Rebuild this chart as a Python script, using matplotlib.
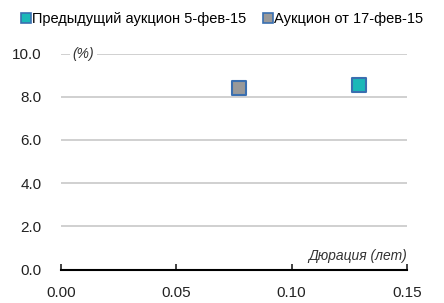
import matplotlib.pyplot as plt
from matplotlib import font_manager

# Data
series = ['Предыдущий аукцион 5-фев-15', 'Аукцион от 17-фев-15']
duration = [0.129, 0.077]
yields = [8.55, 8.4]
colors = ['#1bb8b8', '#999999']

names = {f.name for f in font_manager.fontManager.ttflist}
fam = 'Liberation Sans Narrow' if 'Liberation Sans Narrow' in names else 'Liberation Sans'
plt.rcParams['font.family'] = [fam, 'DejaVu Sans']

fig = plt.figure(figsize=(4.44, 3.03), dpi=100)
ax = fig.add_axes([61 / 444, 33.5 / 303, 346 / 444, 216 / 303])

for x, y, c, lab in zip(duration, yields, colors, series):
    ax.scatter([x], [y], s=110, marker='s', color=c, edgecolors='#3a6fb0',
               linewidths=1.5, label=lab, zorder=3)

ax.set_xlim(0, 0.15)
ax.set_ylim(0, 10)
ax.set_xticks([0, 0.05, 0.10, 0.15])
ax.set_xticklabels(['0.00', '0.05', '0.10', '0.15'])
ax.set_yticks([0, 2, 4, 6, 8, 10])
ax.set_yticklabels(['0.0', '2.0', '4.0', '6.0', '8.0', '10.0'])
ax.tick_params(axis='both', labelsize=11, colors='#222222')
ax.tick_params(axis='y', length=0, pad=14)
ax.tick_params(axis='x', length=4, width=1.2, direction='in', pad=12)

ax.grid(axis='y', color='#c8c8c8', linewidth=1.2)
ax.set_axisbelow(True)
for s in ['top', 'right', 'left']:
    ax.spines[s].set_visible(False)
ax.spines['bottom'].set_linewidth(1.5)

ax.text(0.005, 10, '(%)', style='italic', fontsize=10, color='#333333',
        va='center', ha='left', bbox=dict(facecolor='white', edgecolor='none', pad=2))
ax.text(0.15, 0.3, 'Дюрация (лет)', style='italic', fontsize=10, color='#333333',
        va='bottom', ha='right')

handles = [plt.Line2D([], [], marker='s', linestyle='none', markersize=7,
                      markerfacecolor=c, markeredgecolor='#3a6fb0', markeredgewidth=1.2)
           for c in colors]
fig.legend(handles, series, loc='upper center', bbox_to_anchor=(0.5, 0.993), ncol=2,
           frameon=False, fontsize=10.5, handlelength=0.6, handletextpad=0.1,
           columnspacing=1.2, borderaxespad=0.3)

fig.savefig('out.png', dpi=100)
